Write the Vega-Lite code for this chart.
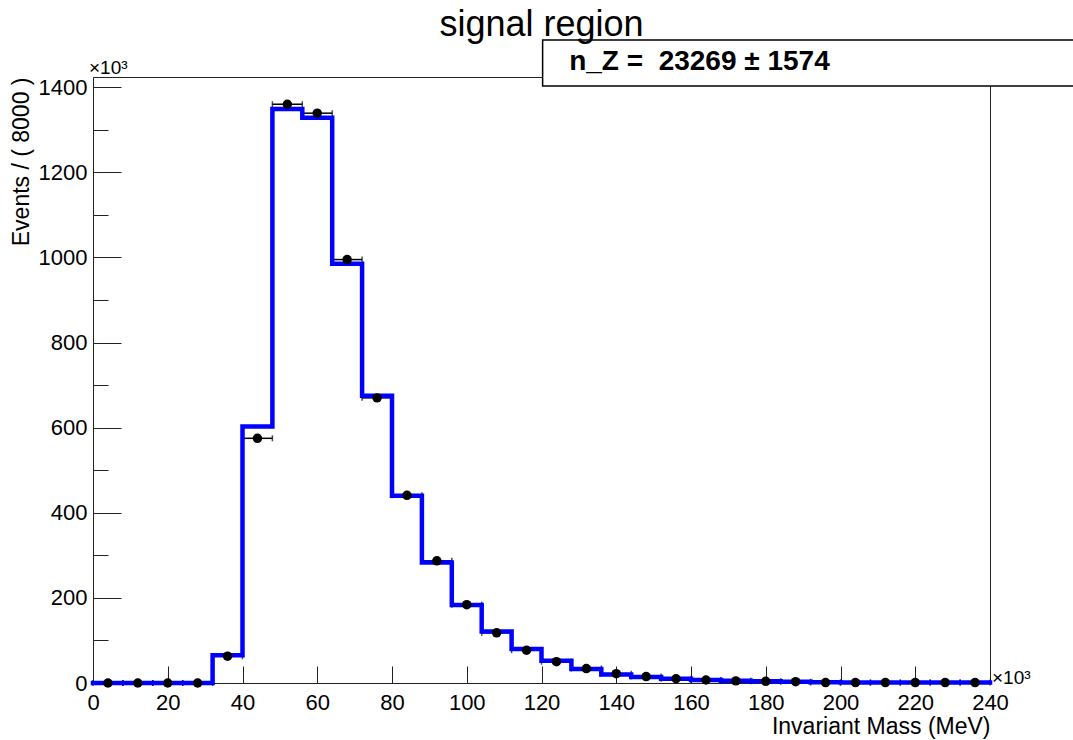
{
  "$schema": "https://vega.github.io/schema/vega-lite/v6.json",
  "autosize": {"type": "none"},
  "padding": {"left": 93, "top": 77, "right": 83, "bottom": 57},
  "width": 897,
  "height": 606,
  "background": "white",
  "title": {"text": "signal region", "font": "Liberation Sans", "fontSize": 36, "fontWeight": "normal", "color": "black", "anchor": "middle", "frame": "group", "offset": -5},
  "config": {
    "view": {"stroke": "#222", "strokeWidth": 1},
    "axis": {"grid": false, "domainColor": "#222", "tickColor": "#222", "labelColor": "black", "titleColor": "black", "labelFont": "Liberation Sans", "titleFont": "Liberation Sans", "titleFontWeight": "normal", "labelOverlap": false, "labelFlush": false}
  },
  "datasets": {
    "bins": [
      {"lo": 0, "hi": 8, "mid": 4, "data": 0},
      {"lo": 8, "hi": 16, "mid": 12, "data": 0},
      {"lo": 16, "hi": 24, "mid": 20, "data": 0},
      {"lo": 24, "hi": 32, "mid": 28, "data": 0},
      {"lo": 32, "hi": 40, "mid": 36, "data": 63},
      {"lo": 40, "hi": 48, "mid": 44, "data": 575},
      {"lo": 48, "hi": 56, "mid": 52, "data": 1360},
      {"lo": 56, "hi": 64, "mid": 60, "data": 1339},
      {"lo": 64, "hi": 72, "mid": 68, "data": 995},
      {"lo": 72, "hi": 80, "mid": 76, "data": 670},
      {"lo": 80, "hi": 88, "mid": 84, "data": 441},
      {"lo": 88, "hi": 96, "mid": 92, "data": 287},
      {"lo": 96, "hi": 104, "mid": 100, "data": 184},
      {"lo": 104, "hi": 112, "mid": 108, "data": 118},
      {"lo": 112, "hi": 120, "mid": 116, "data": 77},
      {"lo": 120, "hi": 128, "mid": 124, "data": 50},
      {"lo": 128, "hi": 136, "mid": 132, "data": 34},
      {"lo": 136, "hi": 144, "mid": 140, "data": 22},
      {"lo": 144, "hi": 152, "mid": 148, "data": 15},
      {"lo": 152, "hi": 160, "mid": 156, "data": 10},
      {"lo": 160, "hi": 168, "mid": 164, "data": 7},
      {"lo": 168, "hi": 176, "mid": 172, "data": 5},
      {"lo": 176, "hi": 184, "mid": 180, "data": 4},
      {"lo": 184, "hi": 192, "mid": 188, "data": 3},
      {"lo": 192, "hi": 200, "mid": 196, "data": 1},
      {"lo": 200, "hi": 208, "mid": 204, "data": 1},
      {"lo": 208, "hi": 216, "mid": 212, "data": 1},
      {"lo": 216, "hi": 224, "mid": 220, "data": 1},
      {"lo": 224, "hi": 232, "mid": 228, "data": 1},
      {"lo": 232, "hi": 240, "mid": 236, "data": 1}
    ],
    "edges": [
      {"edge": 0, "fit": 0},
      {"edge": 8, "fit": 0},
      {"edge": 16, "fit": 0},
      {"edge": 24, "fit": 0},
      {"edge": 32, "fit": 65},
      {"edge": 40, "fit": 603},
      {"edge": 48, "fit": 1349},
      {"edge": 56, "fit": 1328},
      {"edge": 64, "fit": 985},
      {"edge": 72, "fit": 675},
      {"edge": 80, "fit": 440},
      {"edge": 88, "fit": 283},
      {"edge": 96, "fit": 183},
      {"edge": 104, "fit": 121},
      {"edge": 112, "fit": 80},
      {"edge": 120, "fit": 52},
      {"edge": 128, "fit": 33},
      {"edge": 136, "fit": 20},
      {"edge": 144, "fit": 14},
      {"edge": 152, "fit": 10},
      {"edge": 160, "fit": 7},
      {"edge": 168, "fit": 5},
      {"edge": 176, "fit": 4},
      {"edge": 184, "fit": 3},
      {"edge": 192, "fit": 2},
      {"edge": 200, "fit": 1},
      {"edge": 208, "fit": 1},
      {"edge": 216, "fit": 1},
      {"edge": 224, "fit": 1},
      {"edge": 232, "fit": 1},
      {"edge": 240, "fit": 1}
    ]
  },
  "layer": [
    {
      "data": {"name": "bins"},
      "mark": {"type": "rule", "color": "black", "strokeWidth": 1.5},
      "encoding": {
        "x": {"field": "lo", "type": "quantitative", "scale": {"domain": [0, 240], "nice": false, "zero": false},
          "axis": {
            "values": [0,5,10,15,20,25,30,35,40,45,50,55,60,65,70,75,80,85,90,95,100,105,110,115,120,125,130,135,140,145,150,155,160,165,170,175,180,185,190,195,200,205,210,215,220,225,230,235,240],
            "labelExpr": "datum.value % 20 === 0 ? datum.label : ''",
            "tickSize": {"condition": {"test": "datum.value % 20 === 0", "value": -17}, "value": -9},
            "labelFontSize": 22, "labelPadding": 26,
            "title": "Invariant Mass (MeV)", "titleFontSize": 23, "titleAnchor": "end", "titlePadding": 2
          }},
        "x2": {"field": "hi"},
        "y": {"field": "data", "type": "quantitative", "scale": {"domain": [0, 1424], "nice": false},
          "axis": {
            "values": [0,50,100,150,200,250,300,350,400,450,500,550,600,650,700,750,800,850,900,950,1000,1050,1100,1150,1200,1250,1300,1350,1400],
            "labelExpr": "datum.value % 200 === 0 ? datum.label : ''",
            "format": "d",
            "tickSize": {"condition": {"test": "datum.value % 200 === 0", "value": -28}, "value": -15},
            "labelFontSize": 22, "labelPadding": 34,
            "title": "Events / ( 8000 )", "titleFontSize": 23, "titleAnchor": "end", "titlePadding": 5
          }}
      }
    },
    {
      "data": {"name": "bins"},
      "mark": {"type": "tick", "color": "black", "orient": "vertical", "size": 6, "thickness": 1.5},
      "encoding": {
        "x": {"field": "lo", "type": "quantitative"},
        "y": {"field": "data", "type": "quantitative"}
      }
    },
    {
      "data": {"name": "bins"},
      "mark": {"type": "tick", "color": "black", "orient": "vertical", "size": 6, "thickness": 1.5},
      "encoding": {
        "x": {"field": "hi", "type": "quantitative"},
        "y": {"field": "data", "type": "quantitative"}
      }
    },
    {
      "data": {"name": "edges"},
      "mark": {"type": "line", "interpolate": "step-after", "color": "#0000ff", "strokeWidth": 4.5, "strokeJoin": "miter", "strokeCap": "square"},
      "encoding": {
        "x": {"field": "edge", "type": "quantitative"},
        "y": {"field": "fit", "type": "quantitative"}
      }
    },
    {
      "data": {"name": "bins"},
      "mark": {"type": "circle", "color": "black", "opacity": 1, "size": 90},
      "encoding": {
        "x": {"field": "mid", "type": "quantitative"},
        "y": {"field": "data", "type": "quantitative"}
      }
    },
    {
      "data": {"values": [{}]},
      "mark": {"type": "rect", "fill": "white", "stroke": "black", "strokeWidth": 1.5},
      "encoding": {
        "x": {"datum": 120.3, "type": "quantitative"},
        "x2": {"datum": 266},
        "y": {"datum": 1511, "type": "quantitative"},
        "y2": {"datum": 1403}
      }
    },
    {
      "data": {"values": [{}]},
      "mark": {"type": "text", "align": "left", "baseline": "alphabetic", "font": "Liberation Sans", "fontWeight": "bold", "fontSize": 28, "color": "black"},
      "encoding": {
        "x": {"datum": 127.4, "type": "quantitative"},
        "y": {"datum": 1440, "type": "quantitative"},
        "text": {"value": "n_Z =\u00a0 23269 ± 1574"}
      }
    },
    {
      "data": {"values": [{}]},
      "mark": {"type": "text", "align": "left", "baseline": "alphabetic", "font": "Liberation Sans", "fontSize": 19, "color": "black", "dx": -4},
      "encoding": {
        "x": {"datum": 0, "type": "quantitative"},
        "y": {"datum": 1430, "type": "quantitative"},
        "text": {"value": "×10³"}
      }
    },
    {
      "data": {"values": [{}]},
      "mark": {"type": "text", "align": "left", "baseline": "alphabetic", "font": "Liberation Sans", "fontSize": 19, "color": "black", "dx": 2, "dy": 1},
      "encoding": {
        "x": {"datum": 240, "type": "quantitative"},
        "y": {"datum": 0, "type": "quantitative"},
        "text": {"value": "×10³"}
      }
    }
  ]
}
